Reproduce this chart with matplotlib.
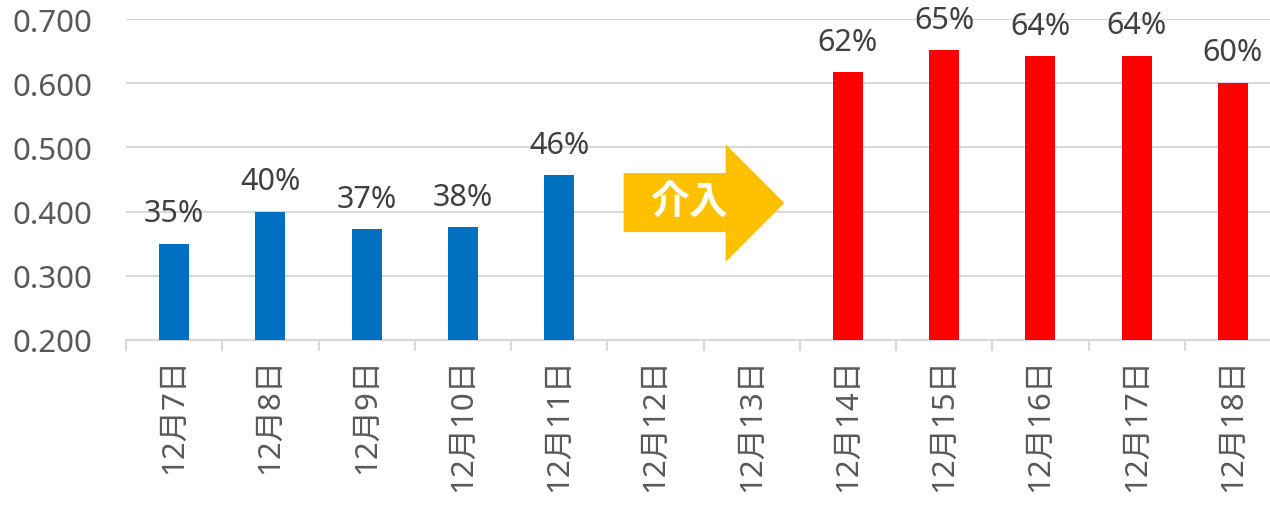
import matplotlib
matplotlib.use("Agg")
import matplotlib.pyplot as plt
from matplotlib.patches import Polygon
import numpy as np

plt.rcParams['font.family'] = ['Noto Sans', 'Noto Sans CJK JP', 'DejaVu Sans']

# Data
days = ["12月7日", "12月8日", "12月9日", "12月10日", "12月11日", "12月12日",
        "12月13日", "12月14日", "12月15日", "12月16日", "12月17日", "12月18日"]
values = [0.350, 0.400, 0.373, 0.376, 0.457, None, None,
          0.617, 0.652, 0.642, 0.643, 0.601]
labels = ["35%", "40%", "37%", "38%", "46%", "", "", "62%", "65%", "64%", "64%", "60%"]
n_before = 5  # days before intervention

fig = plt.figure(figsize=(12.7, 5.06), dpi=100)
# plot area runs slightly past the right edge of the picture
ax = fig.add_axes([126 / 1270, 1 - 341 / 506, 1155 / 1270, 321 / 506])

x = np.arange(len(days))
for i, v in enumerate(values):
    if v is None:
        continue
    color = "#0070C0" if i < n_before else "#FF0000"
    ax.bar(x[i], v - 0.2, bottom=0.2, width=0.31, color=color, zorder=3)
    ax.annotate(labels[i], (x[i], v), xytext=(0, 16), textcoords="offset points",
                ha="center", va="baseline", fontsize=22, color="#404040")

ax.set_xlim(-0.5, len(days) - 0.5)
ax.set_ylim(0.2, 0.7)
ax.set_yticks(np.arange(0.2, 0.71, 0.1))
ax.set_yticklabels(["%.3f" % t for t in np.arange(0.2, 0.71, 0.1)])
ax.yaxis.grid(True, color="#D9D9D9", linewidth=1.5, zorder=0)
ax.tick_params(axis="y", length=0, pad=24, labelsize=22.5, labelcolor="#595959")

ax.set_xticks(x)
ax.set_xticklabels(days, rotation=90, va="top", ha="center")
ax.set_xticks(np.arange(-0.5, len(days), 1), minor=True)
ax.tick_params(axis="x", which="major", length=0, pad=12, labelsize=22.5, labelcolor="#595959")
ax.tick_params(axis="x", which="minor", length=8, width=1.5, color="#D9D9D9")

for s in ["top", "right", "left"]:
    ax.spines[s].set_visible(False)
ax.spines["bottom"].set_color("#D9D9D9")
ax.spines["bottom"].set_linewidth(1.5)

# intervention arrow
ax_x0, body_x1, tip_x = 4.67, 5.73, 6.34
body_lo, body_hi = 0.368, 0.460
head_lo, head_hi = 0.3215, 0.505
tip_y = (head_lo + head_hi) / 2
arrow = Polygon([(ax_x0, body_lo), (ax_x0, body_hi), (body_x1, body_hi), (body_x1, head_hi),
                 (tip_x, tip_y), (body_x1, head_lo), (body_x1, body_lo)],
                closed=True, facecolor="#FFC000", edgecolor="none", zorder=4)
ax.add_patch(arrow)
ax.text(5.35, (body_lo + body_hi) / 2, "介入", ha="center", va="center",
        fontsize=28, fontweight="bold", color="white", zorder=5)

fig.savefig("out.png", dpi=100)
